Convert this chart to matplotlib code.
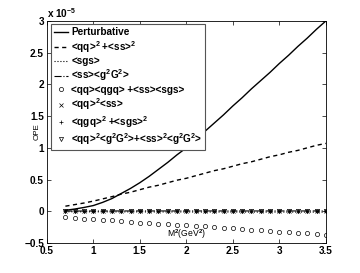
import matplotlib
matplotlib.use('Agg')
import matplotlib.pyplot as plt

plt.rcParams.update({
    'font.family': 'Liberation Sans',
    'font.weight': 'bold',
    'font.size': 7.2,
    'mathtext.fontset': 'custom',
    'mathtext.rm': 'Liberation Sans:bold',
    'mathtext.bf': 'Liberation Sans:bold',
    'mathtext.default': 'bf',
})

# Borel mass M^2 (GeV^2), OPE contributions in units of 1e-5
m2 = [0.7, 0.8, 0.9, 1.0, 1.1, 1.2, 1.3, 1.4, 1.5, 1.6, 1.7, 1.8, 1.9, 2.0, 2.1,
      2.2, 2.3, 2.4, 2.5, 2.6, 2.7, 2.8, 2.9, 3.0, 3.1, 3.2, 3.3, 3.4, 3.5]

perturbative = [0.015, 0.035, 0.06, 0.09, 0.14, 0.20, 0.28, 0.36, 0.45, 0.55,
                0.66, 0.77, 0.89, 1.00, 1.13, 1.26, 1.39, 1.52, 1.66, 1.79,
                1.93, 2.06, 2.19, 2.33, 2.46, 2.60, 2.73, 2.87, 3.00]
qq2_ss2 = [0.08, 0.105, 0.13, 0.16, 0.195, 0.23, 0.27, 0.30, 0.34, 0.38,
           0.41, 0.45, 0.49, 0.52, 0.56, 0.60, 0.64, 0.67, 0.71, 0.75,
           0.78, 0.82, 0.86, 0.89, 0.93, 0.96, 1.00, 1.04, 1.07]
sgs = [-0.008, -0.008, -0.009, -0.009, -0.009, -0.010, -0.010, -0.010, -0.010, -0.011,
       -0.011, -0.011, -0.011, -0.011, -0.012, -0.012, -0.012, -0.012, -0.012, -0.012,
       -0.013, -0.013, -0.013, -0.013, -0.013, -0.013, -0.013, -0.014, -0.014]
ss_g2G2 = [0.004, 0.004, 0.004, 0.004, 0.004, 0.005, 0.005, 0.005, 0.005, 0.005,
           0.005, 0.005, 0.005, 0.005, 0.005, 0.005, 0.005, 0.005, 0.005, 0.005,
           0.005, 0.005, 0.005, 0.005, 0.005, 0.005, 0.005, 0.005, 0.005]
qq_qgq = [-0.085, -0.10, -0.115, -0.125, -0.135, -0.145, -0.155, -0.165, -0.18, -0.19,
          -0.20, -0.205, -0.215, -0.22, -0.23, -0.24, -0.25, -0.26, -0.27, -0.28,
          -0.29, -0.30, -0.31, -0.32, -0.33, -0.34, -0.35, -0.36, -0.375]
qq2_ss = [0.002, 0.002, 0.002, 0.002, 0.002, 0.002, 0.002, 0.002, 0.002, 0.002,
          0.002, 0.002, 0.002, 0.002, 0.002, 0.002, 0.002, 0.002, 0.002, 0.002,
          0.002, 0.002, 0.002, 0.002, 0.002, 0.002, 0.002, 0.002, 0.002]
qgq2_sgs2 = [0.001, 0.001, 0.001, 0.001, 0.001, 0.001, 0.001, 0.001, 0.001, 0.001,
             0.001, 0.001, 0.001, 0.001, 0.001, 0.001, 0.001, 0.001, 0.001, 0.001,
             0.001, 0.001, 0.001, 0.001, 0.001, 0.001, 0.001, 0.001, 0.001]
qq2_g2G2 = [0.0, 0.0, 0.0, 0.0, 0.0, 0.0, 0.0, 0.0, 0.0, 0.0,
            0.0, 0.0, 0.0, 0.0, 0.0, 0.0, 0.0, 0.0, 0.0, 0.0,
            0.0, 0.0, 0.0, 0.0, 0.0, 0.0, 0.0, 0.0, 0.0]

labels = ['Perturbative',
          '<qq>$^2$ +<ss>$^2$',
          '<sgs>',
          '<ss><g$^2$G$^2$>',
          '<qq><qgq> +<ss><sgs>',
          '<qq>$^2$<ss>',
          '<qgq>$^2$ +<sgs>$^2$',
          '<qq>$^2$<g$^2$G$^2$>+<ss>$^2$<g$^2$G$^2$>']

fig = plt.figure(figsize=(3.6, 2.73), dpi=100)
ax = fig.add_axes([0.13, 0.11, 0.775, 0.813])

ax.plot(m2, perturbative, 'k-', lw=1.0, label=labels[0])
ax.plot(m2, qq2_ss2, 'k--', lw=1.0, dashes=(3, 2.5), label=labels[1])
ax.plot(m2, sgs, 'k:', lw=0.8, label=labels[2])
ax.plot(m2, ss_g2G2, 'k-.', lw=0.8, label=labels[3])
ax.plot(m2, qq_qgq, 'o', mfc='none', mec='k', ms=3, mew=0.5, ls='none', label=labels[4])
ax.plot(m2, qq2_ss, 'x', mec='k', ms=2.5, mew=0.5, ls='none', label=labels[5])
ax.plot(m2, qgq2_sgs2, '+', mec='k', ms=3, mew=0.5, ls='none', label=labels[6])
ax.plot(m2, qq2_g2G2, 'v', mfc='none', mec='k', ms=3, mew=0.5, ls='none', label=labels[7])

ax.set_xlim(0.5, 3.5)
ax.set_ylim(-0.5, 3.0)
ax.set_xticks([0.5, 1, 1.5, 2, 2.5, 3, 3.5])
ax.set_xticklabels(['0.5', '1', '1.5', '2', '2.5', '3', '3.5'])
ax.set_yticks([-0.5, 0, 0.5, 1, 1.5, 2, 2.5, 3])
ax.set_yticklabels(['\u22120.5', '0', '0.5', '1', '1.5', '2', '2.5', '3'])
ax.tick_params(direction='in', top=True, right=True, length=3, width=0.5,
               pad=2, labelsize=7.2)
for s in ax.spines.values():
    s.set_linewidth(0.6)

ax.set_xlabel('M$^2$(GeV$^2$)', fontsize=6.2)
ax.xaxis.set_label_coords(0.5, 0.07)
ax.set_ylabel('OPE', fontsize=5.8)
ax.yaxis.set_label_coords(-0.022, 0.50)

ax.text(0.0, 1.005, 'x 10$^{-5}$', transform=ax.transAxes, fontsize=7.2,
        ha='left', va='bottom')

leg = ax.legend(loc='upper left', bbox_to_anchor=(0.015, 0.985), numpoints=1,
                handlelength=1.4, handletextpad=0.35, borderpad=0.3,
                labelspacing=0.15, borderaxespad=0.0, fancybox=False,
                framealpha=1.0, edgecolor='#555555', fontsize=7.2)
leg.get_frame().set_linewidth(0.8)

fig.savefig('out.png', dpi=100)
